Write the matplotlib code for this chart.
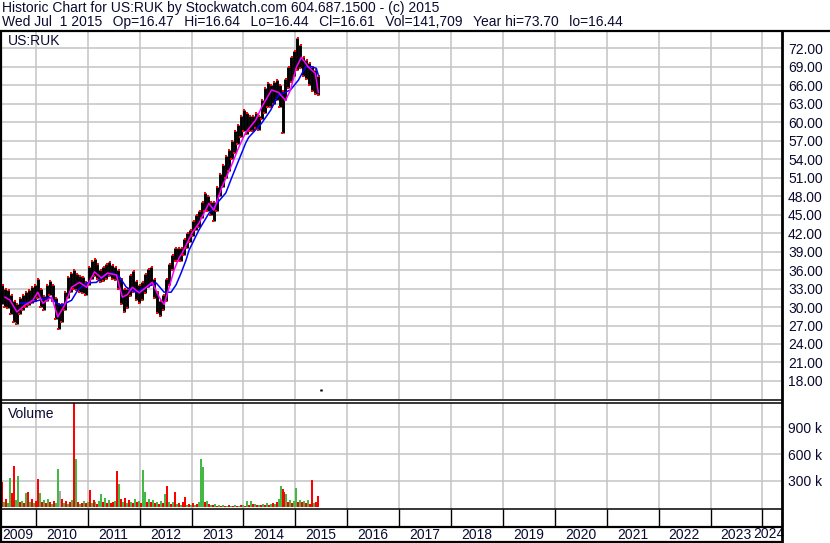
import numpy as np
import pandas as pd
import matplotlib
matplotlib.use('Agg')
import matplotlib.pyplot as plt

plt.rcParams['font.family'] = ['Liberation Sans', 'DejaVu Sans']

W, H = 830, 543
TXT = '#0a0a30'
GRID = '#c4c4c4'

# ---- data ----
start = pd.Timestamp('2009-05-08')          # first bar, weekly steps after that
x_end = pd.Timestamp('2024-05-11')

# price bars every 3 weeks: high / low
bar_week = list(range(0, 319, 3))
bar_high = [33.6, 33.0, 32.8, 32.0, 31.0, 30.5, 31.5, 32.0, 32.5, 32.8, 33.2, 33.5,
            34.5, 33.0, 31.8, 33.5, 34.2, 33.5, 31.5, 30.5, 30.5, 32.5, 34.8, 35.5,
            36.0, 35.3, 35.0, 34.8, 34.0, 36.5, 37.5, 37.8, 37.0, 36.0, 36.5, 37.0,
            37.3, 36.8, 36.5, 36.0, 34.5, 33.0, 33.0, 35.2, 35.8, 34.2, 33.5, 34.0,
            35.3, 36.2, 36.5, 34.5, 32.5, 31.0, 32.0, 34.5, 37.0, 38.5, 39.5, 39.5,
            39.5, 41.0, 42.0, 42.5, 44.0, 45.0, 45.5, 47.0, 48.5, 48.0, 47.0, 47.0,
            49.5, 51.5, 53.0, 54.5, 55.5, 57.0, 58.5, 59.5, 61.0, 62.0, 61.5, 61.0,
            61.0, 61.5, 61.0, 63.5, 65.5, 66.3, 66.0, 66.5, 66.8, 66.0, 65.0, 67.0,
            69.0, 70.5, 71.5, 73.6, 72.5, 70.5, 70.0, 69.5, 68.9, 68.5, 67.5]
bar_low = [30.5, 30.0, 29.8, 28.8, 27.5, 27.2, 28.8, 29.5, 30.0, 30.3, 30.7, 31.0,
           31.5, 30.0, 29.5, 31.0, 32.0, 31.0, 28.0, 26.5, 27.5, 29.5, 31.5, 32.5,
           33.0, 32.8, 32.5, 32.3, 32.0, 33.5, 34.5, 35.0, 34.5, 34.0, 34.2, 34.5,
           35.0, 34.6, 34.3, 33.0, 30.5, 29.2, 29.8, 31.8, 32.5, 31.2, 30.6, 31.2,
           32.3, 33.2, 33.5, 31.5, 29.0, 28.5, 29.5, 31.0, 33.5, 36.0, 37.5, 37.5,
           37.5, 38.5, 39.5, 40.5, 41.5, 42.5, 43.0, 44.5, 45.5, 45.5, 45.0, 44.0,
           45.5, 48.0, 49.5, 51.0, 52.0, 54.0, 55.0, 56.5, 57.5, 58.5, 58.0, 58.5,
           58.5, 59.0, 58.7, 60.5, 61.5, 62.5, 62.5, 63.0, 63.5, 62.5, 58.2, 63.5,
           65.5, 66.5, 67.5, 68.5, 68.8, 67.5, 67.0, 66.0, 65.0, 64.5, 64.4]

# last trade, Jul 1 2015
last_date = '2015-07-01'
last_hi, last_lo = 16.64, 16.44

# short moving average (magenta)
ma_s_week = [3, 8, 15, 23, 31, 36, 41, 50, 56, 63, 70, 78, 85, 93, 100, 106, 115,
             121, 126, 131, 138, 145, 151, 158, 163, 168, 173, 178, 181, 191, 198,
             208, 213, 221, 230, 238, 245, 255, 261, 271, 278, 285, 290, 296, 301,
             308, 315, 318]
ma_s_val = [31.6, 31.1, 29.2, 30.3, 31.1, 32.4, 30.6, 31.6, 28.4, 30.3, 33.2, 34.0,
            33.2, 35.7, 34.7, 35.5, 35.2, 31.6, 32.0, 33.2, 32.3, 33.2, 34.0, 31.6,
            30.4, 33.2, 36.0, 38.0, 38.7, 42.0, 43.6, 46.8, 45.7, 49.4, 52.7, 55.9,
            58.3, 60.3, 62.4, 65.2, 64.8, 63.5, 65.2, 68.9, 70.5, 68.9, 67.9, 64.8]

# long moving average (blue)
ma_l_week = [18, 31, 48, 55, 60, 70, 76, 85, 95, 103, 111, 118, 125, 135, 145, 155,
             163, 170, 175, 180, 185, 188, 198, 208, 216, 225, 231, 238, 245, 248,
             261, 270, 278, 283, 290, 298, 305, 311, 316, 318]
ma_l_val = [30.6, 30.8, 31.6, 30.6, 30.3, 31.1, 32.7, 33.9, 34.0, 35.2, 35.5, 34.9,
            33.2, 32.4, 33.2, 33.9, 32.4, 32.4, 33.6, 35.5, 37.6, 39.2, 42.5, 45.2,
            46.8, 48.5, 51.0, 53.8, 56.6, 57.5, 59.8, 61.9, 64.4, 64.7, 65.2, 66.8,
            68.9, 69.0, 68.7, 67.6]

# volume (thousands), every 2 weeks, with bar colour (r down, g up, a unchanged)
vol_week = list(range(0, 319, 2))
vol_k = [288, 60, 90, 45, 334, 160, 470, 80, 357, 55,
         70, 50, 160, 175, 60, 90, 45, 70, 320, 160,
         60, 80, 50, 90, 60, 40, 70, 50, 433, 180,
         90, 50, 70, 40, 60, 80, 1250, 547, 60, 40,
         50, 70, 45, 60, 194, 50, 80, 60, 40, 70,
         148, 60, 110, 50, 80, 45, 60, 70, 410, 262,
         90, 60, 100, 50, 80, 60, 45, 90, 60, 70,
         50, 422, 171, 60, 90, 60, 80, 45, 60, 40,
         70, 50, 148, 243, 60, 40, 60, 171, 40, 50,
         30, 60, 114, 30, 40, 25, 50, 30, 40, 60,
         547, 460, 60, 68, 40, 30, 25, 40, 20, 30,
         20, 25, 15, 20, 25, 15, 20, 30, 15, 20,
         25, 30, 20, 68, 30, 68, 40, 35, 25, 30,
         30, 40, 25, 45, 30, 35, 50, 40, 60, 90,
         243, 205, 175, 148, 60, 80, 50, 70, 213, 60,
         85, 60, 70, 50, 80, 40, 308, 50, 60, 129]
vol_col = ('rgrggrrggr' 'grgrgrgrrg' 'rgrgrgrgga' 'rgrgrgrgrg'
           'rgrgrgrgrg' 'grgrgrrgrg' 'rgrgrgrgrg' 'rggrgrgrgr'
           'grgrgrgrgr' 'grrgrgrgrg' 'ggrgrgrgrg' 'rgrgrgrgrg'
           'rgrgrgrgrg' 'rgrgrgrgrg' 'grrgrgrggr' 'grgrgrrgrr')

years = list(range(2009, 2025))

# ---- layout helpers (pixel boxes) ----
def box(x0, y0, x1, y1):
    return [x0 / W, 1 - y1 / H, (x1 - x0) / W, (y1 - y0) / H]

fig = plt.figure(figsize=(W / 100, H / 100), dpi=100)
fig.patch.set_facecolor('white')

bar_dates = start + pd.to_timedelta(np.array(bar_week) * 7, unit='D')
ms_dates = start + pd.to_timedelta(np.array(ma_s_week) * 7, unit='D')
ml_dates = start + pd.to_timedelta(np.array(ma_l_week) * 7, unit='D')
vol_dates = start + pd.to_timedelta(np.array(vol_week) * 7, unit='D')
year_starts = [pd.Timestamp(f'{y}-01-01') for y in years[1:]]
year_mids = [pd.Timestamp(f'{y}-07-01') for y in years]
off = pd.Timedelta(days=4)

# price panel
ax = fig.add_axes(box(2, 32, 781, 399))
ax.set_xlim(start, x_end)
ax.set_ylim(15.08, 74.6)
ax.vlines(bar_dates, bar_low, bar_high, color='black', lw=2.1, zorder=3)
ax.plot(bar_dates + off, bar_high, ls='none', marker='s', ms=2.0, color='red',
        mew=0, zorder=4)
ax.plot(bar_dates - off, bar_low, ls='none', marker='s', ms=2.0, color='red',
        mew=0, zorder=4)
ax.vlines([pd.Timestamp(last_date)], [last_lo], [last_hi], color='black', lw=1.8)
ax.plot(ml_dates, ma_l_val, color='#0000ff', lw=1.1, zorder=5)
ax.plot(ms_dates, ma_s_val, color='#ff00ff', lw=1.1, zorder=6)
ax.set_yticks(np.arange(18, 73, 3))
ax.set_yticklabels([f'{v:.2f}' for v in np.arange(18, 73, 3)])
ax.yaxis.tick_right()
ax.set_xticks(year_starts)
ax.set_xticklabels([])
ax.tick_params(axis='both', length=0, labelsize=10, labelcolor=TXT, pad=5)
ax.grid(True, color=GRID, lw=1.1)
ax.set_axisbelow(True)
for s in ax.spines.values():
    s.set_visible(False)
ax.text(0.008, 0.995, 'US:RUK', transform=ax.transAxes, ha='left', va='top',
        fontsize=10, color=TXT)

# volume panel
axv = fig.add_axes(box(2, 403, 781, 509))
axv.set_xlim(start, x_end)
axv.set_ylim(-19, 1176)
cmap = {'r': '#ff0000', 'g': '#44b844', 'a': '#a8a8a8'}
axv.bar(vol_dates, vol_k, width=14, bottom=0, antialiased=False,
        color=[cmap[c] for c in vol_col], lw=0, zorder=3)
axv.set_yticks([300, 600, 900])
axv.set_yticklabels(['300 k', '600 k', '900 k'])
axv.yaxis.tick_right()
axv.set_xticks(year_starts)
axv.set_xticklabels([])
axv.tick_params(axis='both', length=0, labelsize=10, labelcolor=TXT, pad=5)
axv.grid(True, color=GRID, lw=1.1)
axv.set_axisbelow(True)
for s in axv.spines.values():
    s.set_visible(False)
axv.text(0.008, 0.965, 'Volume', transform=axv.transAxes, ha='left', va='top',
         fontsize=10, color=TXT)

# tick row + year labels
axt = fig.add_axes(box(2, 509, 781, 527))
axt.set_xlim(start, x_end)
axt.set_ylim(0, 1)
axt.vlines(year_starts, 0, 1, color='black', lw=1.0)
axt.axis('off')

axl = fig.add_axes(box(2, 527, 781, 541))
axl.set_xlim(start, x_end)
axl.set_ylim(0, 1)
axl.axis('off')
for y, d in zip(years[:-1], year_mids[:-1]):
    ha = 'left' if y == years[0] else 'center'
    axl.text(start if y == years[0] else d, 0.45, str(y), ha=ha, va='center',
             fontsize=10, color=TXT, clip_on=False)
# the last label is pushed against the right edge
fig.text(784 / W, 1 - 534 / H, str(years[-1]), ha='right', va='center',
         fontsize=10, color=TXT)

# frame lines in pixel space
fr = fig.add_axes([0, 0, 1, 1], zorder=10)
fr.set_xlim(0, W)
fr.set_ylim(H, 0)
fr.axis('off')
fr.patch.set_alpha(0)
k = dict(color='black', solid_capstyle='butt')
fr.plot([0, W], [31, 31], lw=1.6, **k)
fr.plot([1, 1], [31, 542], lw=1.6, **k)
fr.plot([781.5, 781.5], [31, H], lw=2.0, **k)
fr.plot([0, 781.5], [400, 400], lw=1.1, **k)
fr.plot([0, 781.5], [402.5, 402.5], lw=1.1, **k)
fr.plot([0, 781.5], [509, 509], lw=1.1, **k)
fr.plot([0, 781.5], [527, 527], lw=1.6, **k)
fr.plot([0, 781.5], [541.5, 541.5], lw=1.6, **k)

fig.text(2 / W, 1 - 8 / H,
         'Historic Chart for US:RUK by Stockwatch.com 604.687.1500 - (c) 2015',
         ha='left', va='center', fontsize=10, color=TXT)
gap = '  \u2009'
fig.text(2 / W, 1 - 22 / H,
         gap.join(['Wed Jul  1 2015', 'Op=16.47', 'Hi=16.64', 'Lo=16.44',
                   'Cl=16.61', 'Vol=141,709', 'Year hi=73.70', 'lo=16.44']),
         ha='left', va='center', fontsize=10, color=TXT)

fig.savefig('out.png', dpi=100, facecolor='white')
